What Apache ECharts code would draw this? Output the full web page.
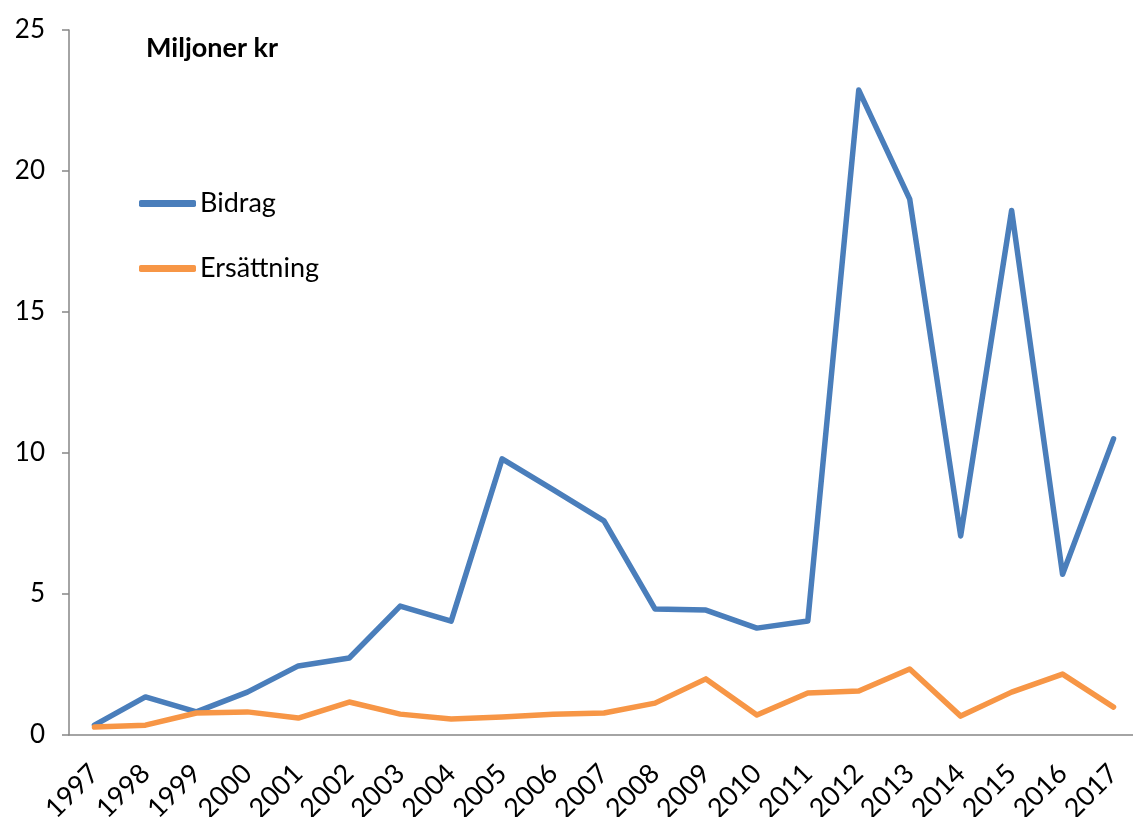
<!DOCTYPE html>
<html>
<head>
<meta charset="utf-8">
<script src="https://cdn.jsdelivr.net/npm/echarts@6/dist/echarts.min.js"></script>
<style>
html, body { margin: 0; padding: 0; background: #fff; }
#chart { width: 1133px; height: 817px; }
</style>
</head>
<body>
<div id="chart"></div>
<script>
const years = ['1997', '1998', '1999', '2000', '2001', '2002', '2003', '2004', '2005', '2006', '2007',
  '2008', '2009', '2010', '2011', '2012', '2013', '2014', '2015', '2016', '2017']
const bidrag = [0.35, 1.35, 0.82, 1.52, 2.45, 2.73, 4.57, 4.04, 9.79, 8.7, 7.59,
  4.47, 4.43, 3.79, 4.04, 22.87, 19.0, 7.06, 18.6, 5.7, 10.5]
const ersattning = [0.28, 0.35, 0.78, 0.82, 0.6, 1.17, 0.74, 0.57, 0.64, 0.74, 0.78,
  1.13, 1.99, 0.71, 1.49, 1.56, 2.34, 0.67, 1.52, 2.16, 0.99]

const font = 'Lato, "Open Sans", sans-serif'
const axisGrey = '#868686'

const chart = echarts.init(document.getElementById('chart'))
chart.setOption({
  animation: false,
  textStyle: { fontFamily: font },
  title: {
    text: 'Miljoner kr',
    left: 141,
    top: 30,
    textStyle: { fontFamily: font, fontSize: 27, fontWeight: 'bold', color: '#000' }
  },
  legend: {
    orient: 'vertical',
    left: 134,
    top: 185,
    itemGap: 38,
    itemWidth: 57,
    itemHeight: 7,
    icon: 'roundRect',
    textStyle: { fontFamily: font, fontSize: 27, color: '#000', padding: [0, 0, 0, -1] },
    data: ['Bidrag', 'Ersättning']
  },
  grid: {
    left: 69,
    right: -6,
    top: 30,
    bottom: 82,
    containLabel: false,
    outerBoundsMode: 'none'
  },
  xAxis: {
    type: 'category',
    data: years,
    boundaryGap: true,
    axisLine: { lineStyle: { color: axisGrey, width: 1.5 } },
    axisTick: { length: 7, lineStyle: { color: axisGrey, width: 1.5 } },
    axisLabel: { rotate: 45, fontSize: 27, color: '#000', margin: 34, interval: 0 },
    splitLine: { show: false }
  },
  yAxis: {
    type: 'value',
    min: 0,
    max: 25,
    interval: 5,
    axisLine: { show: true, lineStyle: { color: axisGrey, width: 1.5 } },
    axisTick: { show: true, length: 7, lineStyle: { color: axisGrey, width: 1.5 } },
    axisLabel: { fontSize: 26, color: '#000', margin: 24 },
    splitLine: { show: false }
  },
  series: [
    {
      name: 'Bidrag',
      type: 'line',
      data: bidrag,
      symbol: 'none',
      color: '#4A7EBB',
      lineStyle: { width: 5.5, color: '#4A7EBB', cap: 'round', join: 'round' }
    },
    {
      name: 'Ersättning',
      type: 'line',
      data: ersattning,
      symbol: 'none',
      color: '#F79646',
      lineStyle: { width: 5.5, color: '#F79646', cap: 'round', join: 'round' }
    }
  ]
})
</script>
</body>
</html>
